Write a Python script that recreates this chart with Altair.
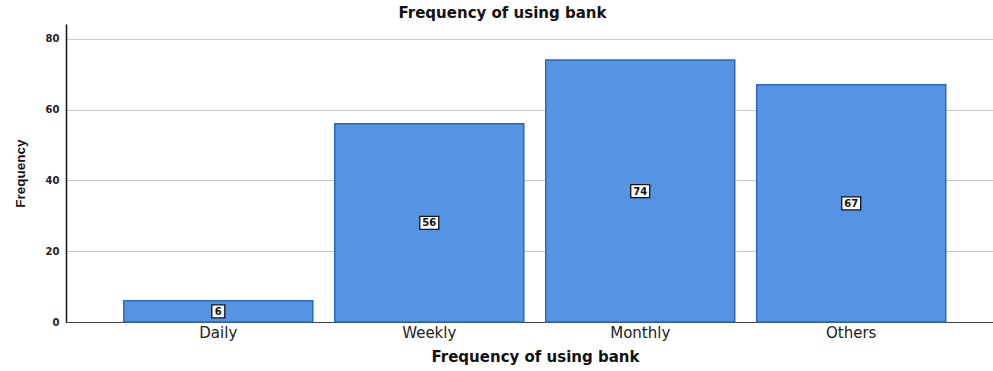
import altair as alt
import pandas as pd

# Bank usage frequency counts
categories = ["Daily", "Weekly", "Monthly", "Others"]
counts = [6, 56, 74, 67]

df = pd.DataFrame({"category": categories, "count": counts})

FONT = "Liberation Sans"
WIDE = "DejaVu Sans"
BAR_FILL = "#5594E3"
BAR_EDGE = "#2C68BE"

x_enc = alt.X(
    "category:N",
    sort=categories,
    scale=alt.Scale(paddingInner=0.104, paddingOuter=0.249, align=0.55),
    axis=alt.Axis(
        title="Frequency of using bank",
        labelAngle=0,
        labelFont=WIDE,
        labelFontSize=15,
        labelColor="#222222",
        labelPadding=3,
        ticks=False,
        domainColor="#444444",
        domainWidth=1.2,
        titleFont=WIDE,
        titleFontSize=15,
        titleFontWeight="bold",
        titleColor="#111111",
        titleX=469,
        titleY=34,
        titleBaseline="middle",
        titleAnchor="middle",
    ),
)

y_scale = alt.Scale(domain=[0, 84.2], nice=False)

bars = alt.Chart(df).mark_bar(
    fill=BAR_FILL, stroke=BAR_EDGE, strokeWidth=1.5
).encode(
    x=x_enc,
    y=alt.Y(
        "count:Q",
        scale=y_scale,
        axis=alt.Axis(
            title="Frequency",
            values=[0, 20, 40, 60, 80],
            grid=True,
            gridColor="#c8c8c8",
            gridWidth=1.2,
            ticks=False,
            domainColor="#111111",
            domainWidth=1.5,
            labelFont=WIDE,
            labelFontSize=10,
            labelFontWeight="bold",
            labelColor="#222222",
            labelPadding=7,
            titleFont=FONT,
            titleFontSize=13.5,
            titleFontWeight="bold",
            titleColor="#111111",
            titleX=-46,
            titleY=149,
            titleBaseline="middle",
            titleAngle=270,
        ),
    ),
)

# White value boxes centred in each bar
wide_box = "M-1.46,-1L1.46,-1L1.46,1L-1.46,1Z"
boxes = alt.Chart(df).mark_point(
    filled=True, fill="white", stroke="#111111", strokeWidth=1.3, opacity=1, size=169
).encode(
    x=alt.X("category:N", sort=categories),
    y=alt.Y("half:Q", scale=y_scale),
    shape=alt.condition("datum.count < 10", alt.value("square"), alt.value(wide_box)),
).transform_calculate(half="datum.count / 2")

labels = alt.Chart(df).mark_text(
    font=WIDE, fontSize=10, fontWeight="bold", color="#111111", baseline="middle", dy=0.5
).encode(
    x=alt.X("category:N", sort=categories),
    y=alt.Y("half:Q", scale=y_scale),
    text=alt.Text("count:Q"),
).transform_calculate(half="datum.count / 2")

chart = (
    alt.layer(bars, boxes, labels)
    .properties(
        width=927,
        height=298,
        autosize=alt.AutoSizeParams(type="none"),
        padding={"left": 66, "top": 24, "right": 0, "bottom": 49},
        title=alt.TitleParams(
            "Frequency of using bank",
            fontSize=15,
            fontWeight="bold",
            color="#111111",
            font=WIDE,
            anchor="middle",
            dx=-27,
            offset=3,
        ),
    )
    .configure(font=FONT, background="white")
    .configure_view(stroke=None)
)

chart.save("out.html", embed_options={"renderer": "svg", "actions": False})
